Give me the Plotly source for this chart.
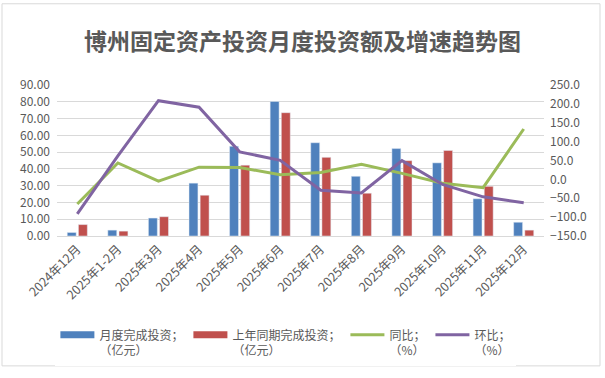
import plotly.graph_objects as go

categories = ["2024年12月", "2025年1-2月", "2025年3月", "2025年4月", "2025年5月", "2025年6月",
              "2025年7月", "2025年8月", "2025年9月", "2025年10月", "2025年11月", "2025年12月"]
monthly_invest = [2.1, 3.5, 10.7, 31.5, 53.5, 80.2, 55.6, 35.6, 52.1, 43.6, 22.2, 8.2]
last_year_invest = [6.8, 2.9, 11.5, 24.3, 42.2, 73.5, 46.9, 25.5, 44.9, 51.0, 29.6, 3.5]
yoy = [-65.3, 43.5, -4.9, 32.3, 31.4, 12.4, 18.5, 40.0, 15.9, -10.0, -22.0, 133.4]
mom = [-91.3, 62.5, 208.5, 191.2, 72.9, 50.4, -29.0, -36.0, 49.6, -13.5, -46.3, -61.9]

names = ["月度完成投资；<br>（亿元）", "上年同期完成投资；<br>（亿元）", "同比；<br>（%）", "环比；<br>（%）"]
c_blue, c_red, c_green, c_purple = "#4F81BD", "#C0504D", "#9BBB59", "#8064A2"
font = "Noto Sans CJK SC"
gray = "#595959"

fig = go.Figure()
fig.add_trace(go.Bar(x=categories, y=monthly_invest, marker_color=c_blue, showlegend=False, name=names[0]))
fig.add_trace(go.Bar(x=categories, y=last_year_invest, marker_color=c_red, showlegend=False, name=names[1]))
fig.add_trace(go.Scatter(x=categories, y=yoy, mode="lines", line=dict(color=c_green, width=3),
                         yaxis="y2", showlegend=False, name=names[2]))
fig.add_trace(go.Scatter(x=categories, y=mom, mode="lines", line=dict(color=c_purple, width=3),
                         yaxis="y2", showlegend=False, name=names[3]))
# legend entries
for nm, col, w in [(names[0], c_blue, 7), (names[1], c_red, 7), (names[2], c_green, 3), (names[3], c_purple, 3)]:
    fig.add_trace(go.Scatter(x=[None], y=[None], mode="lines", line=dict(color=col, width=w),
                             name=nm, showlegend=True, yaxis="y2"))

fig.update_layout(
    width=605, height=378,
    margin=dict(l=57, r=61, t=85, b=139),
    paper_bgcolor="white", plot_bgcolor="white",
    font=dict(family=font, color=gray, size=12),
    title=dict(text="<b>博州固定资产投资月度投资额及增速趋势图</b>", x=0.5, xanchor="center",
               y=1 - 42 / 378, yanchor="middle", font=dict(size=23, color=gray, family=font)),
    barmode="group", bargap=0.45, bargroupgap=0.2,
    xaxis=dict(tickangle=-45, showline=True, linecolor="#D9D9D9", ticks="", tickfont=dict(size=12.5),
               automargin=False),
    yaxis=dict(range=[0, 90], dtick=10, tickformat=".2f", gridcolor="#D9D9D9", zeroline=False,
               tickfont=dict(size=12), ticklabelstandoff=6, automargin=False),
    yaxis2=dict(range=[-150, 250], dtick=50, tickformat=".1f", overlaying="y", side="right",
                showgrid=False, zeroline=False, tickfont=dict(size=12), ticklabelstandoff=5,
                automargin=False),
    legend=dict(orientation="h", x=0.47, xanchor="center", y=-0.56, yanchor="top",
                valign="top", font=dict(size=12, color=gray), itemwidth=34),
    shapes=[dict(type="rect", xref="paper", yref="paper",
                 x0=(2 - 57) / 487, x1=(600 - 57) / 487,
                 y0=(239.3 - 372) / 154.3, y1=(239.3 - 2) / 154.3,
                 line=dict(color="#D9D9D9", width=1), layer="below")],
)

fig.write_html("out.html", config={"displayModeBar": False},
               post_script="document.body.style.margin='0';")
